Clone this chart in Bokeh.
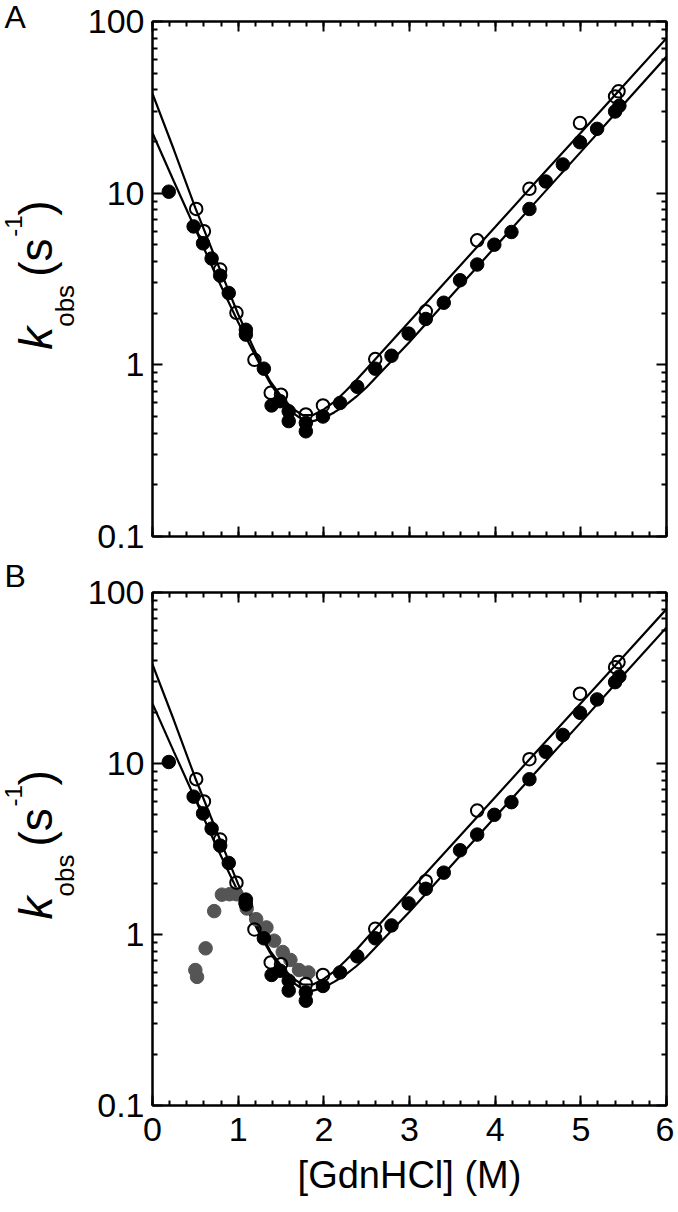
import math
from bokeh.plotting import figure
from bokeh.models import (LinearAxis, LogAxis, FixedTicker, SingleIntervalTicker,
                          CustomJSTickFormatter, Range1d)
from bokeh.core.properties import value
from bokeh.layouts import column, row
from bokeh.embed import file_html
from bokeh.resources import INLINE

# ---------------- data ----------------
# open circles
x_open = [0.51, 0.60, 0.79, 0.98, 1.19, 1.38, 1.50, 1.79, 1.99, 2.60, 3.19, 3.79, 4.40, 4.99, 5.40, 5.44]
y_open = [8.1, 6.0, 3.59, 2.01, 1.07, 0.687, 0.67, 0.514, 0.58, 1.08, 2.05, 5.31, 10.6, 25.6, 36.6, 39.2]

# filled circles
x_fill = [0.19, 0.48, 0.59, 0.69, 0.79, 0.89, 1.09, 1.09, 1.30, 1.39, 1.49, 1.59, 1.59, 1.79, 1.79,
          1.99, 2.19, 2.39, 2.60, 2.79, 2.99, 3.19, 3.40, 3.59, 3.79, 3.99, 4.19, 4.40, 4.59, 4.79,
          4.99, 5.19, 5.40, 5.45]
y_fill = [10.2, 6.4, 5.1, 4.16, 3.31, 2.62, 1.60, 1.50, 0.95, 0.58, 0.614, 0.537, 0.47, 0.459, 0.41,
          0.50, 0.60, 0.745, 0.95, 1.13, 1.52, 1.85, 2.30, 3.11, 3.84, 5.01, 5.94, 8.09, 11.7, 14.7,
          19.8, 23.7, 29.9, 32.3]

# gray circles (panel B only)
x_gray = [0.50, 0.52, 0.62, 0.72, 0.81, 0.90, 0.98, 1.08, 1.10, 1.21, 1.33, 1.42, 1.52, 1.61, 1.71, 1.82]
y_gray = [0.62, 0.565, 0.83, 1.37, 1.71, 1.72, 1.72, 1.55, 1.42, 1.23, 1.10, 0.92, 0.79, 0.71, 0.62, 0.60]

# fitted curves
x_line = [0.0, 0.25, 0.5, 0.75, 1.0, 1.25, 1.375, 1.5, 1.625, 1.75, 1.875, 2.0, 2.125, 2.25,
          2.375, 2.5, 3.0, 3.5, 4.0, 4.5, 5.0, 5.5, 6.0]
y_line_upper = [38.0, 17.9, 8.2, 3.99, 1.97, 1.05, 0.80, 0.66, 0.56, 0.51, 0.51, 0.55, 0.61, 0.70,
                0.81, 0.95, 1.79, 3.37, 6.35, 12.0, 22.5, 42.4, 80.0]
y_line_lower = [22.4, 11.7, 6.18, 3.25, 1.77, 1.01, 0.78, 0.63, 0.53, 0.48, 0.47, 0.49, 0.53, 0.58,
                0.65, 0.74, 1.36, 2.57, 4.86, 9.2, 17.4, 33.0, 62.5]

y_ticks = [0.1, 1, 10, 100]
y_minor = [m * d for d in (0.1, 1, 10) for m in range(2, 10)]
x_title = "[GdnHCl] (M)"
panel_letters = ["A", "B"]
# y-axis title pieces: k_obs (s^-1)
ylab_text = ["k", "obs", "(s", "-1", ")"]

FONT = "Liberation Sans"
LAB_W = 80          # width of the strip holding the y title and panel letter
FRAME_W = 514


def style_axis(ax, show_labels):
    ax.axis_line_width = 2
    ax.axis_line_color = "black"
    ax.major_tick_in = 10
    ax.major_tick_out = 0
    ax.minor_tick_in = 5
    ax.minor_tick_out = 0
    ax.major_tick_line_width = 2
    ax.minor_tick_line_width = 2
    ax.major_tick_line_color = "black"
    ax.minor_tick_line_color = "black"
    ax.major_label_text_font = FONT
    if show_labels:
        ax.major_label_text_font_size = "34px"
        ax.major_label_text_color = "black"
    else:
        ax.major_label_text_font_size = "0px"
        ax.major_label_text_color = None
        ax.major_label_standoff = 0


def make_panel(frame_h, top, bottom, show_x, with_gray):
    p = figure(x_range=Range1d(0, 6), y_range=Range1d(0.1, 100), y_axis_type="log",
               frame_width=FRAME_W, frame_height=frame_h,
               min_border_left=152 - LAB_W, min_border_right=8,
               min_border_top=top, min_border_bottom=bottom,
               output_backend="svg", toolbar_location=None,
               background_fill_color="white", border_fill_color="white")
    p.grid.visible = False
    p.outline_line_color = "black"
    p.outline_line_width = 2

    xt = SingleIntervalTicker(interval=1, num_minor_ticks=5)
    yt = FixedTicker(ticks=y_ticks, minor_ticks=y_minor)
    yfmt = CustomJSTickFormatter(code="return String(tick)")

    bx = p.xaxis[0]
    bx.ticker = xt
    style_axis(bx, show_x)
    if show_x:
        bx.major_label_standoff = 12
        bx.axis_label = x_title
        bx.axis_label_text_font = FONT
        bx.axis_label_text_font_size = "38px"
        bx.axis_label_text_font_style = "normal"
        bx.axis_label_text_color = "black"
        bx.axis_label_standoff = 10

    ly = p.yaxis[0]
    ly.ticker = yt
    ly.formatter = yfmt
    style_axis(ly, True)
    ly.major_label_standoff = 8

    top_ax = LinearAxis(ticker=xt)
    style_axis(top_ax, False)
    p.add_layout(top_ax, "above")
    right_ax = LogAxis(ticker=yt, formatter=yfmt)
    style_axis(right_ax, False)
    p.add_layout(right_ax, "right")

    # fitted lines
    p.line(x_line, y_line_upper, line_color="black", line_width=2.2)
    p.line(x_line, y_line_lower, line_color="black", line_width=2.2)

    if with_gray:
        p.scatter(x_gray, y_gray, marker="circle", size=13.5, fill_color="#555555",
                  line_color="#555555", line_width=1)
    p.scatter(x_fill, y_fill, marker="circle", size=13.5, fill_color="black",
              line_color="black", line_width=1)
    p.scatter(x_open, y_open, marker="circle", size=12.5, fill_color=None,
              line_color="black", line_width=2)
    return p


def make_label_strip(height, one_y, letter, letter_y):
    """Narrow figure (no axes, no title) holding the rotated y title and the panel letter.
    Coordinates are pixels: x from the left edge, y = -(distance from the top).
    Texts are anchored at the middle of their glyph band."""
    s = figure(title=None, x_range=Range1d(0, LAB_W), y_range=Range1d(-height, 0),
               width=LAB_W, height=height, min_border=0,
               min_border_top=0, min_border_bottom=0, min_border_left=0, min_border_right=0,
               x_axis_location=None, y_axis_location=None,
               output_backend="svg", toolbar_location=None,
               background_fill_color="white", border_fill_color="white")
    # keep this strip's frame independent of the neighbouring plot's frame
    try:
        s.frame_align = False
    except Exception:
        pass
    s.grid.visible = False
    s.outline_line_color = None
    # (text, font size, style, x of glyph-band centre, distance along text from the "1" tick)
    spec = [
        (ylab_text[0], "46px", "italic", 35, 15),
        (ylab_text[1], "26px", "normal", 64, 38),
        (ylab_text[2], "46px", "normal", 35, 88),
        (ylab_text[3], "24px", "normal", 13, 128),
        (ylab_text[4], "46px", "normal", 35, 149),
    ]
    for txt, fs, style, cx, dy in spec:
        s.text(x=[cx], y=[-(one_y - dy)], text=[txt], angle=math.pi / 2,
               text_align="left", text_baseline="middle",
               text_font=value(FONT), text_font_size=value(fs),
               text_font_style=style, text_color="black")
    s.text(x=[4], y=[-letter_y], text=[letter], text_align="left",
           text_baseline="middle", text_font=value(FONT),
           text_font_size=value("32px"), text_color="black")
    return s


A_TOP, A_FRAME, A_BOT = 21, 515, 20
B_TOP, B_FRAME, B_BOT = 36, 513, 100

pA = make_panel(A_FRAME, A_TOP, A_BOT, False, False)
pB = make_panel(B_FRAME, B_TOP, B_BOT, True, True)

hA = A_TOP + A_FRAME + A_BOT
hB = B_TOP + B_FRAME + B_BOT
sA = make_label_strip(hA, A_TOP + A_FRAME * 2 / 3, panel_letters[0], 16)
sB = make_label_strip(hB, B_TOP + B_FRAME * 2 / 3, panel_letters[1], 19)

layout = column(row(sA, pA, spacing=0), row(sB, pB, spacing=0), spacing=0)
open("out.html", "w").write(file_html(layout, INLINE))
